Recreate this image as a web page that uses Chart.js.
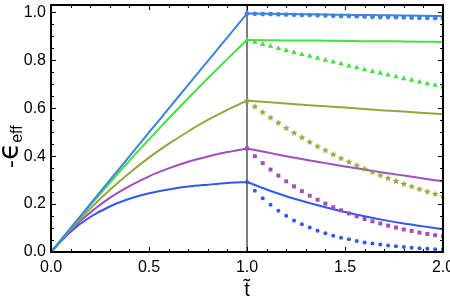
<!DOCTYPE html>
<html>
<head>
<meta charset="utf-8">
<script src="https://cdn.jsdelivr.net/npm/chart.js@4.4.1/dist/chart.umd.min.js"></script>
<style>
  html, body { margin: 0; padding: 0; background: #fff; }
</style>
</head>
<body>
<canvas id="eff_chart" width="450" height="302"></canvas>
<script>
(function() {
    "use strict"

    // ---- data ----
    var switchT = 1.0;
    var xTicks = [0, 0.5, 1.0, 1.5, 2.0];
    var yTicks = [0, 0.2, 0.4, 0.6, 0.8, 1.0];

    // loading phase, t = 0 .. 1
    var tRise = [0, 0.1, 0.2, 0.3, 0.4, 0.5, 0.6, 0.7, 0.8, 0.9, 1.0];
    var riseA = [0, 0.100, 0.200, 0.300, 0.399, 0.499, 0.598, 0.698, 0.797, 0.896, 0.995];
    var riseB = [0, 0.099, 0.195, 0.289, 0.381, 0.470, 0.557, 0.642, 0.725, 0.806, 0.885];
    var riseC = [0, 0.095, 0.181, 0.259, 0.330, 0.394, 0.451, 0.503, 0.551, 0.593, 0.632];
    var riseD = [0, 0.091, 0.165, 0.226, 0.275, 0.316, 0.349, 0.377, 0.399, 0.417, 0.432];
    var riseE = [0, 0.085, 0.146, 0.190, 0.222, 0.245, 0.261, 0.273, 0.281, 0.288, 0.292];

    // relaxation, solid lines, t = 1 .. 2
    var tAfter = [1.0, 1.1, 1.2, 1.3, 1.4, 1.5, 1.6, 1.7, 1.8, 1.9, 2.0];
    var afterA = [0.995, 0.994, 0.993, 0.992, 0.991, 0.990, 0.989, 0.988, 0.987, 0.986, 0.985];
    var afterB = [0.885, 0.884, 0.883, 0.883, 0.882, 0.881, 0.880, 0.880, 0.879, 0.878, 0.877];
    var afterC = [0.632, 0.626, 0.620, 0.614, 0.608, 0.603, 0.597, 0.591, 0.586, 0.580, 0.575];
    var afterD = [0.432, 0.416, 0.400, 0.385, 0.371, 0.357, 0.344, 0.331, 0.319, 0.307, 0.295];
    var afterE = [0.292, 0.261, 0.233, 0.209, 0.187, 0.167, 0.149, 0.133, 0.119, 0.107, 0.095];

    // relaxation, marker series, t = 1 .. 2
    var tMarks = [1.00, 1.04, 1.08, 1.12, 1.16, 1.20, 1.24, 1.28, 1.32, 1.36, 1.40, 1.44, 1.48,
                  1.52, 1.56, 1.60, 1.64, 1.68, 1.72, 1.76, 1.80, 1.84, 1.88, 1.92, 1.96, 2.00];
    var marksA = [0.995, 0.994, 0.993, 0.993, 0.992, 0.991, 0.990, 0.989, 0.989, 0.988, 0.987, 0.986, 0.985,
                  0.985, 0.984, 0.983, 0.982, 0.981, 0.981, 0.980, 0.979, 0.978, 0.977, 0.977, 0.976, 0.975];
    var marksB = [0.885, 0.876, 0.867, 0.859, 0.850, 0.842, 0.833, 0.825, 0.817, 0.809, 0.801, 0.793, 0.785,
                  0.777, 0.769, 0.761, 0.754, 0.747, 0.739, 0.732, 0.724, 0.717, 0.710, 0.703, 0.696, 0.689];
    var marksC = [0.632, 0.607, 0.583, 0.561, 0.539, 0.517, 0.497, 0.478, 0.459, 0.441, 0.424, 0.407, 0.391,
                  0.376, 0.361, 0.347, 0.333, 0.320, 0.308, 0.296, 0.284, 0.273, 0.262, 0.252, 0.242, 0.233];
    var marksD = [0.432, 0.400, 0.371, 0.344, 0.319, 0.295, 0.274, 0.254, 0.235, 0.218, 0.202, 0.187, 0.174,
                  0.161, 0.149, 0.138, 0.128, 0.119, 0.110, 0.102, 0.094, 0.088, 0.081, 0.075, 0.070, 0.065];
    var marksE = [0.292, 0.256, 0.224, 0.197, 0.172, 0.151, 0.132, 0.116, 0.102, 0.089, 0.078, 0.068, 0.060,
                  0.053, 0.046, 0.040, 0.035, 0.031, 0.027, 0.024, 0.021, 0.018, 0.016, 0.014, 0.012, 0.011];

    var colA = "rgb(58, 132, 226)";
    var colB = "rgb(70, 224, 70)";
    var colC = "rgb(154, 163, 58)";
    var colD = "rgb(162, 76, 192)";
    var colE = "rgb(48, 88, 244)";

    var pts = function(xs, ys){
        return xs.map(function(x, i){ return {x: x, y: ys[i]}; });
    };

    // small filled 5-point star for the olive markers
    var makeStar = function(color, r){
        var c = document.createElement('canvas');
        var s = Math.ceil(r * 2 + 2);
        c.width = s; c.height = s;
        var g = c.getContext('2d');
        g.beginPath();
        for (var i = 0; i < 10; i++) {
            var rad = (i % 2 === 0) ? r : r * 0.45;
            var a = -Math.PI / 2 + i * Math.PI / 5;
            var px = s / 2 + rad * Math.cos(a), py = s / 2 + rad * Math.sin(a);
            if (i === 0) g.moveTo(px, py); else g.lineTo(px, py);
        }
        g.closePath();
        g.fillStyle = color;
        g.fill();
        return c;
    };
    var starImg = makeStar(colC, 3.6);

    var lineSet = function(data, color){
        return {
            data: data, borderColor: color, backgroundColor: color,
            borderWidth: 2, pointRadius: 0, fill: false,
            cubicInterpolationMode: 'monotone', order: 2
        };
    };
    var markSet = function(data, color, style, r){
        return {
            data: data, borderColor: color, backgroundColor: color,
            showLine: false, pointStyle: style, pointRadius: r, pointBorderWidth: 0,
            order: 1
        };
    };

    // frame, inward ticks, the t = 1 line and axis titles
    var framePlugin = {
        id: 'frame',
        beforeDatasetsDraw: function(chart){
            var ctx = chart.ctx, a = chart.chartArea;
            var x = chart.scales.x.getPixelForValue(switchT);
            ctx.save();
            ctx.strokeStyle = '#555';
            ctx.lineWidth = 1.5;
            ctx.beginPath();
            ctx.moveTo(x, a.bottom);
            ctx.lineTo(x, a.top);
            ctx.stroke();
            ctx.restore();
        },
        afterDraw: function(chart){
            var ctx = chart.ctx, a = chart.chartArea;
            var sx = chart.scales.x, sy = chart.scales.y;
            ctx.save();
            ctx.strokeStyle = '#000';
            ctx.lineWidth = 1;
            var i, v, p, len;
            for (i = 0; i <= 20; i++) {
                v = i * 0.1;
                p = Math.round(sx.getPixelForValue(v)) + 0.5;
                len = (i % 5 === 0) ? 5 : 3;
                ctx.beginPath();
                ctx.moveTo(p, a.bottom); ctx.lineTo(p, a.bottom - len);
                ctx.moveTo(p, a.top); ctx.lineTo(p, a.top + len);
                ctx.stroke();
            }
            for (i = 0; i <= 20; i++) {
                v = i * 0.05;
                p = Math.round(sy.getPixelForValue(v)) + 0.5;
                len = (i % 4 === 0) ? 5 : 3;
                ctx.beginPath();
                ctx.moveTo(a.left, p); ctx.lineTo(a.left + len, p);
                ctx.moveTo(a.right, p); ctx.lineTo(a.right - len, p);
                ctx.stroke();
            }
            ctx.lineWidth = 2;
            ctx.strokeRect(a.left, a.top, a.right - a.left, a.bottom - a.top);

            // x title: t with tilde
            ctx.fillStyle = '#000';
            ctx.textAlign = 'center';
            ctx.textBaseline = 'alphabetic';
            ctx.font = '20px "Liberation Sans", Arial, sans-serif';
            ctx.fillText('t\u0303', sx.getPixelForValue(switchT), 296);

            // y title: -eps_eff, rotated
            ctx.translate(18, 168);
            ctx.rotate(-Math.PI / 2);
            ctx.textAlign = 'left';
            ctx.font = '22px "DejaVu Sans", sans-serif';
            ctx.fillText('-', 0, 0);
            var w = ctx.measureText('-').width;
            ctx.font = '28px "DejaVu Sans", sans-serif';
            ctx.fillText('\u03f5', w, 0);
            w += ctx.measureText('\u03f5').width;
            ctx.font = '16px "Liberation Sans", Arial, sans-serif';
            ctx.fillText('eff', w, 4);
            ctx.restore();
        }
    };

    var ctx = document.getElementById('eff_chart').getContext('2d');
    new Chart(ctx, {
        type: 'line',
        data: {
            datasets: [
                lineSet(pts(tRise, riseA), colA), lineSet(pts(tAfter, afterA), colA),
                lineSet(pts(tRise, riseB), colB), lineSet(pts(tAfter, afterB), colB),
                lineSet(pts(tRise, riseC), colC), lineSet(pts(tAfter, afterC), colC),
                lineSet(pts(tRise, riseD), colD), lineSet(pts(tAfter, afterD), colD),
                lineSet(pts(tRise, riseE), colE), lineSet(pts(tAfter, afterE), colE),
                markSet(pts(tMarks, marksA), colA, 'circle', 2.4),
                markSet(pts(tMarks, marksB), colB, 'triangle', 3.2),
                markSet(pts(tMarks, marksC), colC, starImg, 3.6),
                markSet(pts(tMarks, marksD), colD, 'rect', 2.8),
                markSet(pts(tMarks, marksE), colE, 'circle', 2)
            ]
        },
        options: {
            responsive: false,
            animation: false,
            layout: { padding: { left: 0, right: 7, top: 5, bottom: 0 } },
            plugins: { legend: { display: false }, tooltip: { enabled: false } },
            scales: {
                x: {
                    type: 'linear', min: 0, max: 2,
                    grid: { display: false, drawTicks: false },
                    border: { display: false },
                    afterBuildTicks: function(s){ s.ticks = xTicks.map(function(v){ return {value: v}; }); },
                    afterFit: function(s){ s.height = 50; s.paddingLeft = 0; s.paddingRight = 0; },
                    ticks: {
                        padding: 6, color: '#000', maxRotation: 0,
                        font: { family: '"Liberation Sans", Arial, sans-serif', size: 16 },
                        callback: function(v){ return Number(v).toFixed(1); }
                    }
                },
                y: {
                    type: 'linear', min: 0, max: 1.031,
                    grid: { display: false, drawTicks: false },
                    border: { display: false },
                    afterBuildTicks: function(s){ s.ticks = yTicks.map(function(v){ return {value: v}; }); },
                    afterFit: function(s){ s.width = 51; s.paddingTop = 0; s.paddingBottom = 0; },
                    ticks: {
                        padding: 5, color: '#000',
                        font: { family: '"Liberation Sans", Arial, sans-serif', size: 16 },
                        callback: function(v){ return Number(v).toFixed(1); }
                    }
                }
            }
        },
        plugins: [framePlugin]
    });
})();
</script>
</body>
</html>
